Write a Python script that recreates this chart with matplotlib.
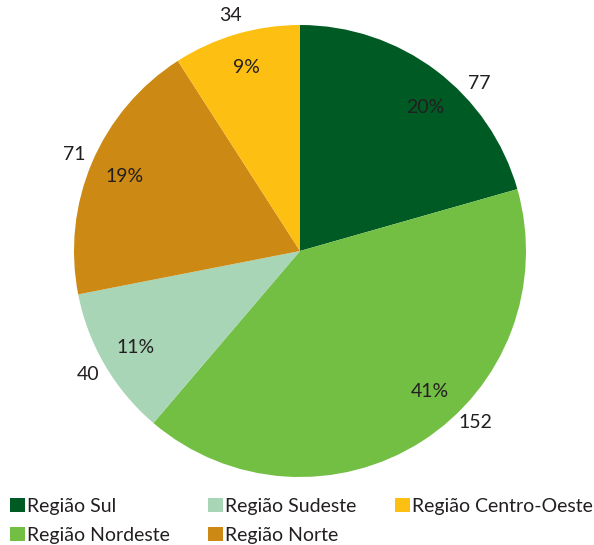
import numpy as np
import matplotlib.pyplot as plt
from matplotlib.patches import Patch

plt.rcParams['font.family'] = ['Lato', 'DejaVu Sans']

# data
regioes = ['Região Sul', 'Região Nordeste', 'Região Sudeste', 'Região Norte', 'Região Centro-Oeste']
valores = [77, 152, 40, 71, 34]
percentuais = [20, 41, 11, 19, 9]
cores = ['#005a24', '#72bf44', '#a8d5b6', '#cc8914', '#fdc012']

# small manual nudges of the labels (degrees), as in the original
desvio_pct = [-4, 10, 0, 0, 0]
desvio_val = [-10, 13, 0, 0, 0]

fig = plt.figure(figsize=(5.94, 5.45), dpi=100)
ax = fig.add_axes([74 / 594, 68 / 545, 452 / 594, 452 / 545])

wedges, _ = ax.pie(valores, colors=cores, startangle=90, counterclock=False,
                   radius=1.0, wedgeprops=dict(linewidth=0))
ax.set_xlim(-1, 1)
ax.set_ylim(-1, 1)
ax.set_aspect('equal')
ax.axis('off')

txtcor = '#231f20'
for w, v, p, dp, dv in zip(wedges, valores, percentuais, desvio_pct, desvio_val):
    meio = (w.theta1 + w.theta2) / 2
    a = np.deg2rad(meio + dp)
    ax.text(0.845 * np.cos(a), 0.845 * np.sin(a), f'{p}%',
            ha='center', va='center', fontsize=14, color=txtcor)
    a = np.deg2rad(meio + dv)
    ax.text(1.085 * np.cos(a), 1.085 * np.sin(a), str(v),
            ha='center', va='center', fontsize=14, color=txtcor)

handles = [Patch(facecolor=c, edgecolor='none') for c in cores]
fig.legend(handles, regioes, ncol=3, loc='upper left', bbox_to_anchor=(10 / 594, 1 - 498 / 545),
           frameon=False, fontsize=14, handlelength=0.75, handleheight=0.75,
           handletextpad=0.1, columnspacing=2.0, labelspacing=0.6, borderaxespad=0,
           borderpad=0, labelcolor=txtcor)

fig.savefig('out.png', dpi=100)
